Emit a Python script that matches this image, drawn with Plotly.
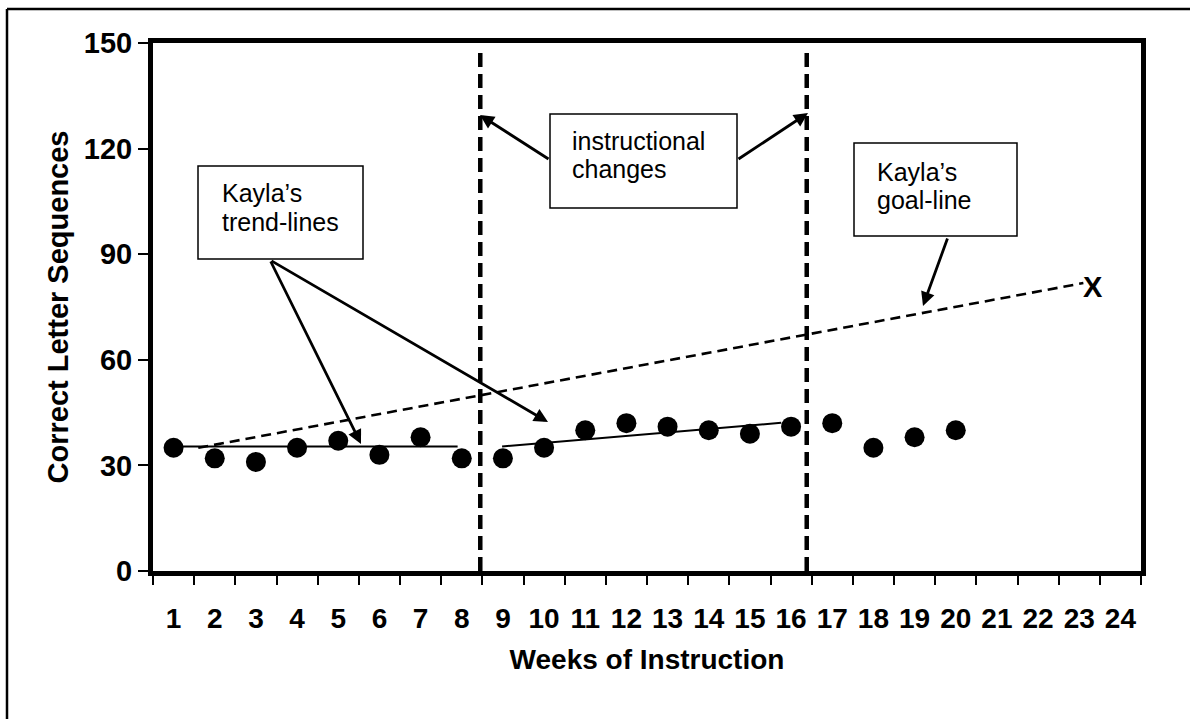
import plotly.graph_objects as go

# ---- data -------------------------------------------------------------
weeks = list(range(1, 21))
correct_letter_sequences = [35, 32, 31, 35, 37, 33, 38, 32, 32, 35,
                            40, 42, 41, 40, 39, 41, 42, 35, 38, 40]

axis_weeks = list(range(1, 25))
y_ticks = [0, 30, 60, 90, 120, 150]

# trend-lines (week, value) endpoints
trend1_x = [1.22, 7.9]
trend1_y = [35.4, 35.4]
trend2_x = [8.98, 15.76]
trend2_y = [35.4, 42.1]

# goal-line from baseline to the goal mark
goal_x = [1.6, 23.1]
goal_y = [35.0, 81.8]
goal_mark_x = 23.33
goal_mark_y = 80.6

# weeks where instruction was changed
phase_changes = [8.45, 16.38]

# ---- layout geometry --------------------------------------------------
W, H = 1190, 719
ML, MR, MT, MB = 153, 49, 43, 148
PW, PH = W - ML - MR, H - MT - MB
FONT = "Arial, Liberation Sans, sans-serif"


def px_x(px):
    return (px - ML) / PW


def px_y(py):
    return (H - MB - py) / PH


fig = go.Figure()

fig.add_trace(go.Scatter(
    x=goal_x, y=goal_y, mode="lines",
    line=dict(color="black", width=2.6, dash="10px,6px"),
    hoverinfo="skip", showlegend=False))

fig.add_trace(go.Scatter(
    x=trend1_x, y=trend1_y, mode="lines",
    line=dict(color="black", width=2), showlegend=False))
fig.add_trace(go.Scatter(
    x=trend2_x, y=trend2_y, mode="lines",
    line=dict(color="black", width=2), showlegend=False))

fig.add_trace(go.Scatter(
    x=weeks, y=correct_letter_sequences, mode="markers",
    marker=dict(color="black", size=20, line=dict(width=0)),
    showlegend=False))

shapes = []
for xc in phase_changes:
    shapes.append(dict(type="line", xref="x", yref="y", x0=xc, x1=xc,
                       y0=0, y1=147.5,
                       line=dict(color="black", width=4.5, dash="14px,7px")))

# outer frame of the figure: left and top edges
shapes.append(dict(type="line", xref="paper", yref="paper",
                   x0=px_x(7), x1=px_x(7), y0=px_y(725), y1=px_y(9),
                   line=dict(color="black", width=2.5)))
shapes.append(dict(type="line", xref="paper", yref="paper",
                   x0=px_x(7), x1=px_x(1195), y0=px_y(9), y1=px_y(9),
                   line=dict(color="black", width=2.5)))

# annotation boxes (pixel extents)
boxes = [(198, 166, 363, 259), (550, 114, 737, 208), (854, 143, 1017, 236)]
for x0, y0, x1, y1 in boxes:
    shapes.append(dict(type="rect", xref="paper", yref="paper",
                       x0=px_x(x0), x1=px_x(x1), y0=px_y(y1), y1=px_y(y0),
                       line=dict(color="black", width=1.5),
                       fillcolor="white", layer="above"))

annotations = []
# box labels: (left px, centre px, text)
labels = [(220, 193, "Kayla’s"), (220, 222, "trend-lines"),
          (570, 141, "instructional"), (570, 169, "changes"),
          (875, 172, "Kayla’s"), (875, 200, "goal-line")]
for lx, ly, t in labels:
    annotations.append(dict(xref="paper", yref="paper", x=px_x(lx), y=px_y(ly),
                            xanchor="left", yanchor="middle", text=t,
                            showarrow=False,
                            font=dict(family=FONT, size=25, color="black")))

# arrows: (tail px, tip px)
arrows = [((270, 260), (361, 444)), ((270, 260), (548, 422)),
          ((550, 160), (480, 115)), ((737, 160), (808, 113)),
          ((948, 237), (923, 306))]
for (tx, ty), (hx, hy) in arrows:
    annotations.append(dict(xref="paper", yref="paper", x=px_x(hx), y=px_y(hy),
                            ax=tx - hx, ay=ty - hy, axref="pixel", ayref="pixel",
                            text="", showarrow=True, arrowhead=2, arrowsize=1,
                            arrowwidth=2.8, arrowcolor="black"))

# goal mark
annotations.append(dict(xref="x", yref="y", x=goal_mark_x, y=goal_mark_y,
                        text="<b>X</b>", showarrow=False,
                        font=dict(family=FONT, size=29, color="black")))

fig.update_layout(
    width=W, height=H,
    margin=dict(l=ML, r=MR, t=MT, b=MB),
    paper_bgcolor="white", plot_bgcolor="white",
    shapes=shapes, annotations=annotations,
    font=dict(family=FONT, color="black"),
    xaxis=dict(
        range=[0.5, 24.5],
        tickvals=axis_weeks, ticktext=[str(w) for w in axis_weeks],
        ticks="outside", ticklen=18, tickcolor="rgba(0,0,0,0)",
        tickfont=dict(family=FONT, size=28, color="black", weight="bold"),
        minor=dict(tick0=0.5, dtick=1, ticks="outside", ticklen=9,
                   tickwidth=2, tickcolor="black", showgrid=False),
        showline=True, linewidth=5, linecolor="black", mirror=True,
        showgrid=False, zeroline=False,
        title=dict(text="<b>Weeks of Instruction</b>", standoff=18,
                   font=dict(family=FONT, size=28, color="black")),
    ),
    yaxis=dict(
        range=[0, 150],
        tickvals=y_ticks, ticktext=[str(v) for v in y_ticks],
        ticks="outside", ticklen=10, tickwidth=2, tickcolor="black",
        tickfont=dict(family=FONT, size=29, color="black", weight="bold"),
        showline=True, linewidth=5, linecolor="black", mirror=True,
        showgrid=False, zeroline=False,
        title=dict(text="<b>Correct Letter Sequences</b>", standoff=8,
                   font=dict(family=FONT, size=29, color="black")),
    ),
)

fig.write_html("out.html")
